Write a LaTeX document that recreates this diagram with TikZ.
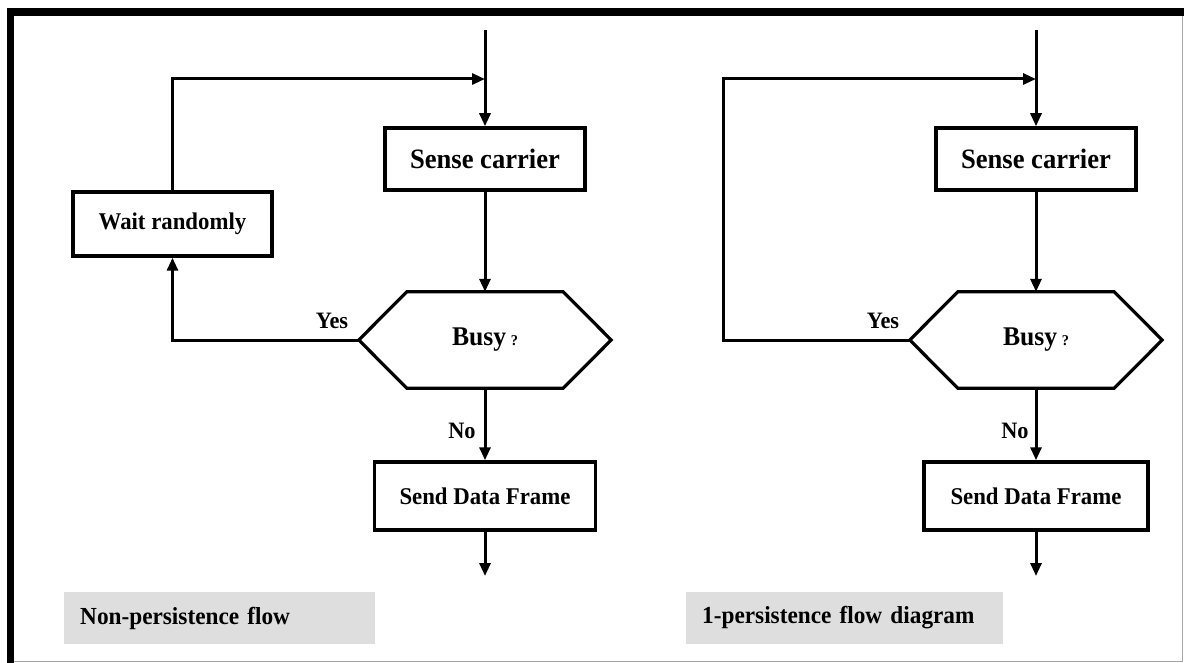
\documentclass[tikz,border=0pt]{standalone}
\usepackage{fontspec}
\setmainfont{Liberation Serif}[FakeStretch=0.95]
\usetikzlibrary{arrows.meta,calc}

\begin{document}
\begin{tikzpicture}[x=1pt,y=-1pt,
  box/.style={draw, line width=3.5pt, inner sep=0pt, font=\bfseries\fontsize{24}{24}\selectfont},
  hexnode/.style={inner sep=0pt, minimum width=252pt, minimum height=96pt},
  hexline/.style={line width=3.2pt, line join=miter},
  conn/.style={line width=3pt, -{Triangle[length=13pt,width=11pt]}},
  plain/.style={line width=3pt},
  lbl/.style={inner sep=0pt, anchor=base, font=\bfseries\fontsize{23.5}{23.5}\selectfont},
  caption/.style={fill=black!13, inner xsep=16pt, inner ysep=0pt, minimum height=52pt,
    anchor=west, align=left, font=\bfseries\fontsize{24.5}{24.5}\selectfont}
]
\useasboundingbox (0,0) rectangle (1184,663);

% frame: heavy top and left edges, light bottom and right edges
\fill[black] (7,8) rectangle (1184,16);
\fill[black] (7,8) rectangle (14,663);
\draw[black!35, line width=1.5pt] (14,661.5) -- (1182.5,661.5) -- (1182.5,16);

% ---------- non-persistent CSMA ----------
\node[box, minimum width=200pt, minimum height=62pt, font=\bfseries\fontsize{28}{28}\selectfont]
  (senseL) at (485,159) {Sense carrier};
\node[box, minimum width=199pt, minimum height=64pt] (waitL) at (172.5,224) {Wait randomly};
\node[hexnode] (busyL) at (485,340)
  {\bfseries\fontsize{27}{27}\selectfont Busy\,{\fontsize{15}{15}\selectfont ?}};
\node[box, minimum width=221pt, minimum height=68pt] (sendL) at (485,496) {Send Data Frame};

\coordinate (inL) at (485,30);
\coordinate (joinL) at (485,79);
\coordinate (outL) at (485,576);

\draw[plain] (inL) -- (joinL);
\draw[conn] (joinL) -- (senseL.north);
\draw[conn] (waitL.north) |- (joinL);
\draw[conn] (senseL.south) -- (busyL.north);
\draw[conn] (busyL.west) -| (waitL.south);
\draw[conn] (busyL.south) -- (sendL.north);
\draw[conn] (sendL.south) -- (outL);

\node[lbl] (yesL) at (332,328) {Yes};
\node[lbl] (noL) at (462,438) {No};

\node[caption, minimum width=311pt, text width=279pt] (capL) at (64,618) {Non-persistence flow};

% ---------- 1-persistent CSMA ----------
\node[box, minimum width=200pt, minimum height=62pt, font=\bfseries\fontsize{28}{28}\selectfont]
  (senseR) at (1036,159) {Sense carrier};
\node[hexnode] (busyR) at (1036,340)
  {\bfseries\fontsize{27}{27}\selectfont Busy\,{\fontsize{15}{15}\selectfont ?}};
\node[box, minimum width=224pt, minimum height=68pt] (sendR) at (1036,496) {Send Data Frame};

\coordinate (inR) at (1036,30);
\coordinate (joinR) at (1036,79);
\coordinate (loopR) at (723,79);
\coordinate (outR) at (1036,576);

\draw[plain] (inR) -- (joinR);
\draw[conn] (joinR) -- (senseR.north);
\draw[conn] (senseR.south) -- (busyR.north);
\draw[conn] (busyR.west) -| (loopR) -- (joinR);
\draw[conn] (busyR.south) -- (sendR.north);
\draw[conn] (sendR.south) -- (outR);

\node[lbl] (yesR) at (883,328) {Yes};
\node[lbl] (noR) at (1015,438) {No};

\node[caption, minimum width=317pt, text width=285pt] (capR) at (686,618) {1-persistence flow diagram};

% hexagonal decision outlines
\foreach \h in {busyL,busyR} {
  \draw[hexline] (\h.west) -- ([xshift=48pt]\h.north west) -- ([xshift=-48pt]\h.north east)
    -- (\h.east) -- ([xshift=-48pt]\h.south east) -- ([xshift=48pt]\h.south west) -- cycle;
}
\end{tikzpicture}
\end{document}
